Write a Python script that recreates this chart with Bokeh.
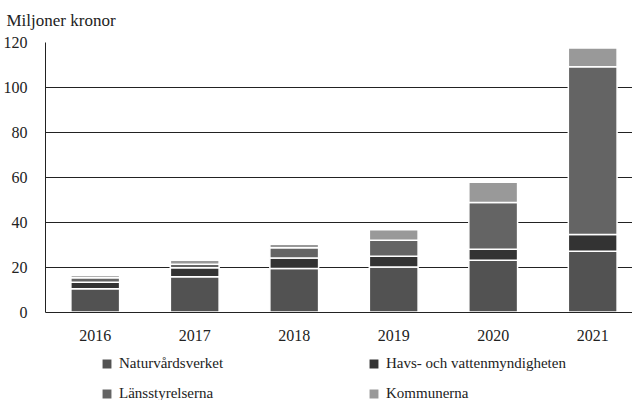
from bokeh.plotting import figure
from bokeh.models import ColumnDataSource, Range1d, Legend, LegendItem, FixedTicker
from bokeh.embed import file_html
from bokeh.resources import INLINE

years = ["2016", "2017", "2018", "2019", "2020", "2021"]
naturvardsverket = [10.4, 15.7, 19.4, 20.0, 23.0, 27.1]
havs = [2.8, 4.0, 4.7, 4.8, 4.9, 7.4]
lansstyrelserna = [2.0, 1.6, 4.5, 7.1, 20.9, 74.7]
kommunerna = [1.1, 1.7, 1.6, 4.7, 9.0, 8.4]
series_names = ["Naturvårdsverket", "Havs- och vattenmyndigheten", "Länsstyrelserna", "Kommunerna"]
colors = ["#525252", "#333333", "#646464", "#999999"]
y_ticks = [0, 20, 40, 60, 80, 100, 120]

FONT = "Liberation Serif"

keys = ["n", "h", "l", "k"]
src = ColumnDataSource(dict(x=list(range(len(years))), n=naturvardsverket, h=havs,
                            l=lansstyrelserna, k=kommunerna))

p = figure(width=632, height=400, output_backend="svg", toolbar_location=None,
           x_range=Range1d(-0.5, 5.4), y_range=Range1d(-39.4, 120),
           min_border_left=39, min_border_right=0, min_border_bottom=0, min_border_top=0,
           title="Miljoner kronor")
p.outline_line_color = None
p.title.text_font = FONT
p.title.text_font_size = "17px"
p.title.text_font_style = "normal"
p.title.text_color = "#222222"
p.title.align = "left"
p.title.vertical_align = "top"
p.title.offset = -39
p.title.standoff = 21

rs = p.vbar_stack(keys, x="x", width=0.49, source=src, color=colors,
                  line_color="white", line_width=1.5)

p.xgrid.grid_line_color = None
p.ygrid.grid_line_color = "#222222"
p.ygrid.grid_line_width = 1
p.ygrid.ticker = FixedTicker(ticks=y_ticks)
p.yaxis.ticker = FixedTicker(ticks=y_ticks)
p.yaxis.bounds = (0, 120)
p.xaxis.ticker = FixedTicker(ticks=list(range(len(years))))
p.xaxis.major_label_overrides = {i: y for i, y in enumerate(years)}
p.xaxis.fixed_location = 0

for ax in (p.xaxis[0], p.yaxis[0]):
    ax.major_tick_line_color = None
    ax.minor_tick_line_color = None
    ax.axis_line_color = "#222222"
    ax.major_label_text_font = FONT
    ax.major_label_text_font_size = "16px"
    ax.major_label_text_color = "#222222"
p.yaxis.major_label_standoff = 12
p.xaxis.major_label_standoff = 12

def mk_legend(items, vx, vy):
    lg = Legend(items=items, location=(vx, vy), orientation="vertical",
                background_fill_alpha=0, border_line_color=None, padding=0, margin=0,
                glyph_width=13, glyph_height=13, label_standoff=6, spacing=13,
                label_text_font=FONT, label_text_font_size="15px",
                label_text_color="#222222", label_height=14)
    p.add_layout(lg, "center")

mk_legend([LegendItem(label=series_names[0], renderers=[rs[0]]),
           LegendItem(label=series_names[2], renderers=[rs[2]])], 55, -2)
mk_legend([LegendItem(label=series_names[1], renderers=[rs[1]]),
           LegendItem(label=series_names[3], renderers=[rs[3]])], 322, -2)

open("out.html", "w").write(file_html(p, INLINE))
